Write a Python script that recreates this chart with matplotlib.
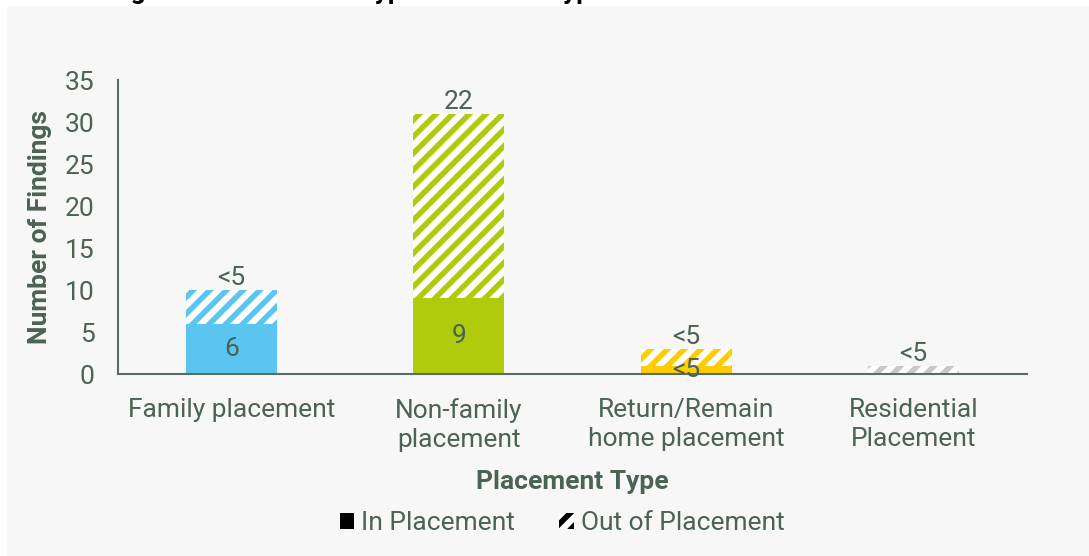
import matplotlib
matplotlib.use("Agg")
import matplotlib.pyplot as plt
from matplotlib.patches import Patch, Rectangle
import numpy as np

# Data
categories = ["Family placement", "Non-family\nplacement", "Return/Remain\nhome placement", "Residential\nPlacement"]
in_placement = [6, 9, 1, 0]
out_placement = [4, 22, 2, 1]
in_labels = ["6", "9", "<5", ""]
out_labels = ["<5", "22", "<5", "<5"]
colors = ["#5BC5F2", "#B0CB0B", "#FFCC00", "#C8C8C8"]

txt = "#4B6352"
fs = 19
plt.rcParams['font.family'] = ['Roboto', 'DejaVu Sans']
plt.rcParams['hatch.linewidth'] = 4.0

fig = plt.figure(figsize=(10.89, 5.56), dpi=100)
fig.patch.set_facecolor("white")
fig.patches.append(Rectangle((7 / 1089, 0), 1, 1 - 6 / 556, transform=fig.transFigure,
                             facecolor="#F7F7F7", edgecolor="none", zorder=-10))

# title, cut off by the top edge as in the source
fig.text(0.053, 1 + 1 / 556, "Findings of Each Domain Type and Other Type",
         fontsize=fs, fontweight="bold", color="black", va="baseline", ha="left")

ax = fig.add_axes([118 / 1089, 1 - 374 / 556, (1027 - 118) / 1089, (374 - 80) / 556])
ax.set_facecolor("none")

x = np.arange(len(categories))
w = 0.4
for i in range(len(categories)):
    ax.bar(x[i], in_placement[i], w, color=colors[i], linewidth=0, zorder=2)
    ax.bar(x[i], out_placement[i], w, bottom=in_placement[i], facecolor="white",
           edgecolor=colors[i], hatch="//", linewidth=0, zorder=2)
    if in_labels[i]:
        ax.text(x[i], in_placement[i] / 2, in_labels[i], ha="center", va="center",
                fontsize=fs, color=txt, zorder=3)
    ax.annotate(out_labels[i], (x[i], in_placement[i] + out_placement[i]),
                xytext=(0, 0), textcoords="offset points", ha="center", va="bottom",
                fontsize=fs, color=txt, zorder=3)

ax.set_xlim(-0.5, 3.5)
ax.set_ylim(0, 35)
ax.set_yticks(range(0, 36, 5))
ax.set_xticks(x)
ax.set_xticklabels(categories, linespacing=1.3)
ax.tick_params(axis="both", length=0, labelsize=fs, labelcolor=txt)
ax.tick_params(axis="y", pad=17)
ax.tick_params(axis="x", pad=17)
for s in ["top", "right"]:
    ax.spines[s].set_visible(False)
for s in ["left", "bottom"]:
    ax.spines[s].set_color("#5A6E5F")
    ax.spines[s].set_linewidth(1.5)

ax.set_xlabel("Placement Type", fontsize=fs, fontweight="bold", color=txt)
ax.set_ylabel("Number of Findings", fontsize=fs, fontweight="bold", color=txt)
ax.yaxis.set_label_coords(-0.073, 0.5)
ax.xaxis.set_label_coords(0.5, -0.326)

handles = [Patch(facecolor="black", edgecolor="black", linewidth=0),
           Patch(facecolor="white", edgecolor="black", hatch="//", linewidth=0)]
leg = fig.legend(handles, ["In Placement", "Out of Placement"], loc="center",
                 bbox_to_anchor=(562 / 1089, 1 - 523 / 556), ncol=2, frameon=False,
                 fontsize=fs, handlelength=0.55, handleheight=0.55, handletextpad=0.25,
                 columnspacing=1.7)
for t in leg.get_texts():
    t.set_color(txt)

fig.savefig("out.png", dpi=100, facecolor=fig.get_facecolor())
